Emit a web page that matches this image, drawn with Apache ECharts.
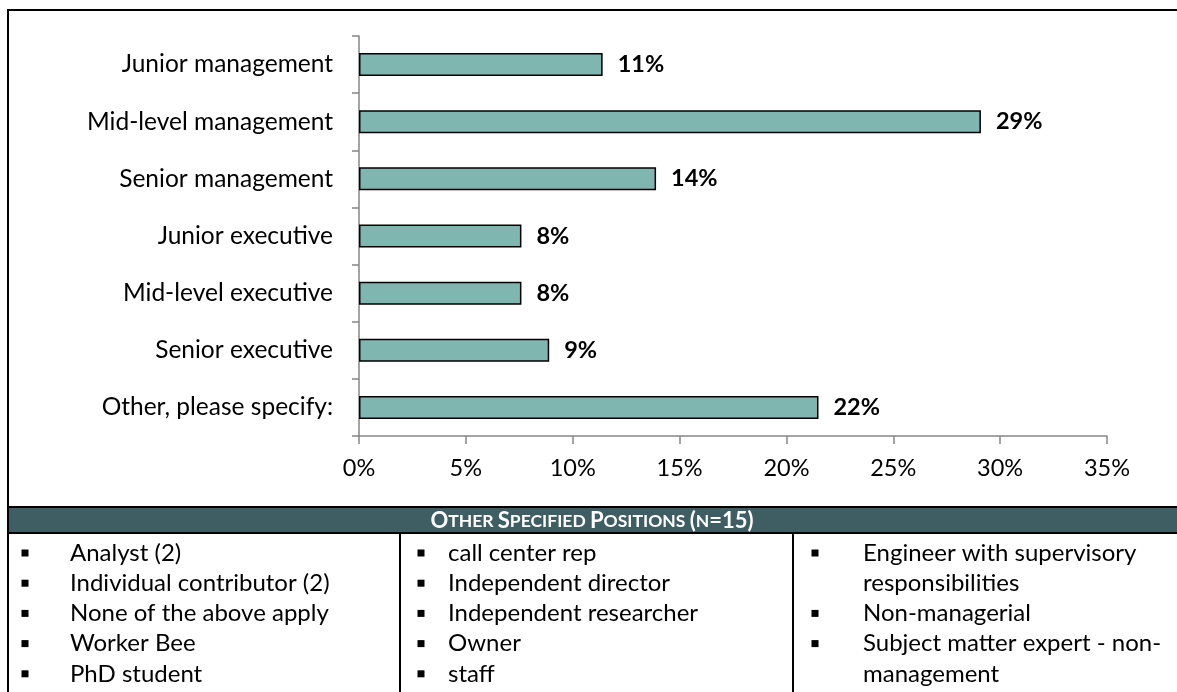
<!DOCTYPE html>
<html>
<head>
<meta charset="utf-8">
<script src="https://cdn.jsdelivr.net/npm/echarts@6/dist/echarts.min.js"></script>
<style>
  html, body { margin: 0; padding: 0; background: #fff; }
  #chart { width: 1177px; height: 692px; }
</style>
</head>
<body>
<div id="chart"></div>
<script>
// positions held, top to bottom
var categories = ['Junior management', 'Mid-level management', 'Senior management',
  'Junior executive', 'Mid-level executive', 'Senior executive', 'Other, please specify:'];
var values = [11.4, 29.1, 13.9, 7.6, 7.6, 8.9, 21.5];   // percent

// "other, please specify" answers, one list per column (\n = wrapped line)
var otherCol1 = ['Analyst (2)', 'Individual contributor (2)', 'None of the above apply', 'Worker Bee', 'PhD student'];
var otherCol2 = ['call center rep', 'Independent director', 'Independent researcher', 'Owner', 'staff'];
var otherCol3 = ['Engineer with supervisory\nresponsibilities', 'Non-managerial', 'Subject matter expert - non-\nmanagement'];

var FONT = 'Lato';
var myChart = echarts.init(document.getElementById('chart'));

// table below the chart
var graphics = [
  { type: 'rect', shape: { x: 8, y: 10, width: 1185, height: 700 },
    style: { fill: 'none', stroke: '#000', lineWidth: 2 }, silent: true },
  { type: 'rect', shape: { x: 8, y: 507, width: 1185, height: 26 },
    style: { fill: '#3e5e63', stroke: '#000', lineWidth: 2 }, silent: true },
  { type: 'line', shape: { x1: 400, y1: 533, x2: 400, y2: 700 },
    style: { stroke: '#000', lineWidth: 2 }, silent: true },
  { type: 'line', shape: { x1: 793, y1: 533, x2: 793, y2: 700 },
    style: { stroke: '#000', lineWidth: 2 }, silent: true },
  {
    type: 'text', x: 592, y: 521, silent: true,
    style: {
      text: '{b|O}{s|THER }{b|S}{s|PECIFIED }{b|P}{s|OSITIONS }{b|(}{s|N}{b|=15)}',
      align: 'center', verticalAlign: 'middle',
      rich: {
        b: { fontFamily: FONT, fontWeight: 'bold', fontSize: 22, fill: '#fff' },
        s: { fontFamily: FONT, fontWeight: 'bold', fontSize: 17.5, fill: '#fff' }
      }
    }
  }
];

function addColumn(items, bulletX, textX) {
  var row = 0;
  items.forEach(function (item) {
    var lines = item.split('\n');
    lines.forEach(function (ln, i) {
      var y = 553 + row * 30.2;
      if (i === 0) {
        graphics.push({ type: 'rect', silent: true,
          shape: { x: bulletX - 3.5, y: y - 3.5, width: 7, height: 7 },
          style: { fill: '#000' } });
      }
      graphics.push({ type: 'text', x: textX, y: y, silent: true,
        style: { text: ln, fontFamily: FONT, fontSize: 24, fill: '#000',
          align: 'left', verticalAlign: 'middle' } });
      row++;
    });
  });
}
addColumn(otherCol1, 25, 70);
addColumn(otherCol2, 421, 448);
addColumn(otherCol3, 815, 863);

myChart.setOption({
  animation: false,
  grid: { left: 359, right: 70, top: 36, bottom: 256, containLabel: false },
  xAxis: {
    type: 'value',
    min: 0,
    max: 35,
    interval: 5,
    splitLine: { show: false },
    axisLine: { show: true, lineStyle: { color: '#868686', width: 1.5 } },
    axisTick: { show: true, length: 8, lineStyle: { color: '#868686', width: 1.5 } },
    axisLabel: { formatter: '{value}%', fontFamily: FONT, fontSize: 23.5, color: '#000', margin: 20 }
  },
  yAxis: {
    type: 'category',
    inverse: true,
    data: categories,
    axisLine: { show: true, lineStyle: { color: '#868686', width: 1.5 } },
    axisTick: { show: true, length: 7, alignWithLabel: false, lineStyle: { color: '#868686', width: 1.5 } },
    axisLabel: { fontFamily: FONT, fontSize: 24.5, color: '#000', margin: 26 }
  },
  series: [
    {
      type: 'bar',
      data: values,
      barWidth: 23,
      itemStyle: { color: '#80b6b0', borderColor: '#000', borderWidth: 1.5 },
      label: {
        show: true,
        position: 'right',
        distance: 15,
        fontFamily: FONT,
        fontWeight: 'bold',
        fontSize: 23.5,
        color: '#000',
        formatter: function (p) { return Math.round(p.value) + '%'; }
      }
    }
  ],
  graphic: graphics
});
</script>
</body>
</html>
